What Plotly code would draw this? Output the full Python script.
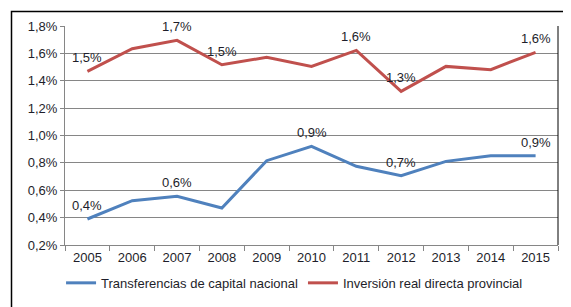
import plotly.graph_objects as go

years = ["2005", "2006", "2007", "2008", "2009", "2010", "2011", "2012", "2013", "2014", "2015"]
transferencias = [0.390, 0.524, 0.556, 0.470, 0.816, 0.921, 0.775, 0.706, 0.811, 0.852, 0.852]
inversion = [1.469, 1.634, 1.695, 1.517, 1.571, 1.505, 1.622, 1.323, 1.505, 1.481, 1.608]
transf_labels = ["0,4%", "", "0,6%", "", "", "0,9%", "", "0,7%", "", "", "0,9%"]
inv_labels = ["1,5%", "", "1,7%", "1,5%", "", "", "1,6%", "1,3%", "", "", "1,6%"]
y_ticks = [0.2, 0.4, 0.6, 0.8, 1.0, 1.2, 1.4, 1.6, 1.8]
y_tick_text = ["0,2%", "0,4%", "0,6%", "0,8%", "1,0%", "1,2%", "1,4%", "1,6%", "1,8%"]

BLUE = "#4F81BD"
RED = "#C0504D"
TXT = "#1e1e2a"
FONT = "Liberation Sans, Arial, sans-serif"
FS = 13

fig = go.Figure()
fig.add_trace(go.Scatter(x=years, y=transferencias, mode="lines",
                         name="Transferencias de capital nacional",
                         line=dict(color=BLUE, width=3)))
fig.add_trace(go.Scatter(x=years, y=inversion, mode="lines",
                         name="Inversión real directa provincial",
                         line=dict(color=RED, width=3)))

annotations = []
for labels, vals in ((transf_labels, transferencias), (inv_labels, inversion)):
    for i, (y, t) in enumerate(zip(vals, labels)):
        if t:
            annotations.append(dict(x=i, y=y, text=t, showarrow=False,
                                    xref="x", yref="y", yanchor="bottom",
                                    yshift=4, font=dict(size=FS, color=TXT, family=FONT)))

fig.update_layout(
    width=571, height=307,
    margin=dict(l=57, r=21, t=18, b=70),
    paper_bgcolor="white", plot_bgcolor="white",
    font=dict(family=FONT, size=FS, color=TXT),
    showlegend=True,
    legend=dict(orientation="h", x=-0.008, xanchor="left", y=-0.173, yanchor="middle",
                font=dict(size=FS, color=TXT, family=FONT), bgcolor="rgba(0,0,0,0)",
                itemwidth=30, tracegroupgap=0),
    annotations=annotations,
    xaxis=dict(type="category", range=[-0.5, len(years) - 0.5], showgrid=False,
               showline=True, linecolor="#868686",
               linewidth=1, ticks="outside", tickson="boundaries", ticklen=5,
               tickcolor="#868686", tickfont=dict(size=FS, color=TXT), zeroline=False),
    yaxis=dict(range=[0.2, 1.8], tickvals=y_ticks, ticktext=y_tick_text,
               showgrid=True, gridcolor="#868686", gridwidth=1,
               showline=True, linecolor="#868686", linewidth=1,
               ticks="outside", ticklen=4, tickcolor="#868686",
               tickfont=dict(size=FS, color=TXT), zeroline=False),
    shapes=[
        dict(type="line", xref="paper", yref="paper", x0=1, x1=1, y0=0, y1=1,
             line=dict(color="#000000", width=1)),
        dict(type="rect", xref="paper", yref="paper",
             x0=(3.5 - 57) / 493, x1=(565 - 57) / 493,
             y0=(237 - 302.5) / 219, y1=(237 - 3.5) / 219,
             line=dict(color="#000000", width=1.5)),
    ],
)

fig.write_html("out.html")
